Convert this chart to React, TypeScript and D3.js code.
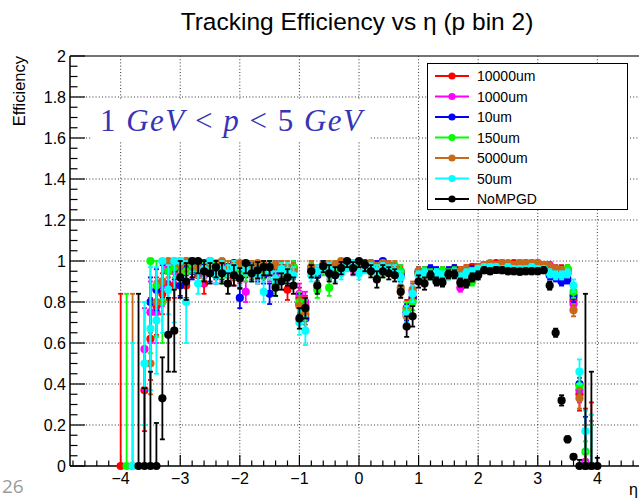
import React from "react";
import * as d3 from "d3";

// eta bin centres (categories)
const ETA_BINS: number[] = d3.range(81).map((i) => Math.round((-4 + 0.1 * i) * 10) / 10);

const SERIES_NAMES = ["10000um", "1000um", "10um", "150um", "5000um", "50um", "NoMPGD"];
const SERIES_COLORS = ["#ff0000", "#ff00ff", "#0000ff", "#00ff00", "#c8691a", "#00ffff", "#000000"];

const X_TICKS = [-4, -3, -2, -1, 0, 1, 2, 3, 4];
const Y_TICKS = [0, 0.2, 0.4, 0.6, 0.8, 1, 1.2, 1.4, 1.6, 1.8, 2];

const N = null;

// 10000um
const EFF_10000 = [
  0, N, N, N, 0.37, 0.62, 0.78, 0.84, 0.88, 0.88,
  0.97, 0.88, 0.96, 0.93, 0.89, 0.98, 0.95, 0.97, 0.96, 0.92,
  0.94, 0.97, 0.95, 0.93, 0.98, 0.96, 0.94, 0.97, 0.86, 0.95,
  0.82, 0.78, 0.97, 0.93, 0.97, 0.95, 0.96, 0.98, 0.99, 0.97,
  0.99, 0.97, 0.99, 0.96, 0.98, 0.97, 0.95, 0.94, 0.77, 0.82,
  0.94, 0.95, 0.95, 0.94, 0.95, 0.94, 0.96, 0.95, 0.96, 0.97,
  0.97, 0.98, 0.98, 0.99, 0.99, 0.98, 0.99, 0.98, 0.99, 0.98,
  0.99, 0.98, 0.97, 0.96, 0.96, 0.96, 0.81, 0.35, 0, 0, N,
];
const ERR_10000 = [
  0.84, 0, 0, 0, 0.2, 0.2, 0.14, 0.1, 0.07, 0.06,
  0.04, 0.06, 0.04, 0.04, 0.05, 0.03, 0.04, 0.03, 0.04, 0.04,
  0.04, 0.03, 0.04, 0.04, 0.03, 0.03, 0.04, 0.03, 0.05, 0.03,
  0.05, 0.05, 0.03, 0.03, 0.03, 0.03, 0.03, 0.02, 0.02, 0.02,
  0.02, 0.02, 0.02, 0.03, 0.02, 0.02, 0.03, 0.03, 0.04, 0.04,
  0.02, 0.02, 0.02, 0.02, 0.02, 0.02, 0.02, 0.02, 0.02, 0.015,
  0.015, 0.015, 0.015, 0.015, 0.015, 0.015, 0.015, 0.015, 0.015, 0.015,
  0.015, 0.015, 0.02, 0.02, 0.02, 0.02, 0.04, 0.08, 0.28, 0.31, 0,
];

// 1000um
const EFF_1000 = [
  N, N, N, N, 0.57, 0.75, 0.75, 0.88, 0.97, 0.95,
  0.97, 1.0, 1.0, 0.96, 0.93, 1.0, 0.96, 0.94, 0.97, 0.95,
  0.93, 0.85, 0.97, 0.95, 0.96, 0.94, 0.96, 0.93, 0.95, 0.96,
  0.84, 0.8, 0.96, 0.95, 0.98, 0.96, 0.97, 0.97, 0.98, 0.96,
  0.98, 0.97, 0.97, 0.98, 0.96, 0.98, 0.96, 0.95, 0.74, 0.85,
  0.94, 0.95, 0.94, 0.95, 0.93, 0.95, 0.95, 0.87, 0.95, 0.96,
  0.97, 0.98, 0.97, 0.98, 0.99, 0.98, 0.98, 0.99, 0.98, 0.99,
  0.98, 0.98, 0.98, 0.96, 0.95, 0.95, 0.79, 0.37, 0.02, 0, N,
];
const ERR_1000 = [
  0, 0, 0, 0, 0.2, 0.15, 0.15, 0.1, 0.05, 0.05,
  0.04, 0.05, 0.04, 0.04, 0.05, 0.04, 0.04, 0.04, 0.03, 0.04,
  0.04, 0.05, 0.03, 0.04, 0.03, 0.04, 0.03, 0.04, 0.03, 0.03,
  0.05, 0.05, 0.03, 0.03, 0.02, 0.03, 0.03, 0.02, 0.02, 0.03,
  0.02, 0.02, 0.02, 0.02, 0.03, 0.02, 0.03, 0.03, 0.04, 0.04,
  0.02, 0.02, 0.02, 0.02, 0.02, 0.02, 0.02, 0.02, 0.02, 0.015,
  0.015, 0.015, 0.015, 0.015, 0.015, 0.015, 0.015, 0.015, 0.015, 0.015,
  0.015, 0.015, 0.015, 0.02, 0.02, 0.02, 0.03, 0.06, 0.05, 0.22, 0,
];

// 10um
const EFF_10 = [
  N, N, N, N, N, 0.8, 0.86, 0.9, 0.95, 0.96,
  0.88, 0.97, 0.95, 0.97, 0.99, 0.94, 0.93, 0.95, 0.97, 0.99,
  0.82, 0.96, 0.98, 0.94, 0.93, 0.84, 0.97, 0.95, 0.93, 0.97,
  0.79, 0.72, 0.95, 0.93, 0.97, 0.94, 0.96, 0.97, 0.98, 0.99,
  0.97, 0.99, 0.97, 0.98, 1.0, 0.96, 0.97, 0.93, 0.75, 0.82,
  0.95, 0.94, 0.96, 0.95, 0.94, 0.95, 0.96, 0.94, 0.95, 0.96,
  0.97, 0.97, 0.98, 0.98, 0.97, 0.98, 0.98, 0.98, 0.97, 0.98,
  0.97, 0.97, 0.93, 0.92, 0.9, 0.91, 0.83, 0.4, 0, 0, N,
];
const ERR_10 = [
  0, 0, 0, 0, 0, 0.12, 0.1, 0.08, 0.05, 0.05,
  0.05, 0.04, 0.04, 0.04, 0.03, 0.04, 0.04, 0.04, 0.04, 0.03,
  0.05, 0.04, 0.03, 0.04, 0.04, 0.05, 0.03, 0.04, 0.04, 0.03,
  0.05, 0.06, 0.03, 0.03, 0.03, 0.03, 0.03, 0.02, 0.02, 0.02,
  0.02, 0.02, 0.02, 0.02, 0.02, 0.03, 0.02, 0.03, 0.04, 0.04,
  0.02, 0.02, 0.02, 0.02, 0.02, 0.02, 0.02, 0.02, 0.02, 0.015,
  0.015, 0.015, 0.015, 0.015, 0.015, 0.015, 0.015, 0.015, 0.015, 0.015,
  0.015, 0.015, 0.02, 0.02, 0.02, 0.02, 0.03, 0.06, 0.24, 0.2, 0,
];

// 150um
const EFF_150 = [
  N, 0, N, N, N, 1.0, 0.88, 0.8, 0.95, 0.97,
  1.0, 0.95, 0.98, 0.96, 0.95, 0.97, 0.99, 0.93, 0.96, 0.95,
  0.97, 0.94, 0.96, 0.98, 0.95, 0.97, 0.88, 0.96, 0.94, 0.97,
  0.8, 0.76, 0.96, 0.86, 0.96, 0.87, 0.97, 0.96, 0.98, 0.97,
  0.98, 0.98, 0.96, 0.97, 0.95, 0.97, 0.97, 0.95, 0.76, 0.8,
  0.94, 0.95, 0.94, 0.94, 0.95, 0.94, 0.95, 0.93, 0.95, 0.9,
  0.96, 0.97, 0.98, 0.98, 0.98, 0.97, 0.98, 0.99, 0.98, 0.98,
  0.98, 0.98, 0.96, 0.95, 0.95, 0.96, 0.85, 0.39, 0.07, 0, N,
];
const ERR_150 = [
  0, 0.84, 0, 0, 0, 0.45, 0.25, 0.2, 0.08, 0.05,
  0.05, 0.05, 0.04, 0.04, 0.04, 0.04, 0.03, 0.04, 0.04, 0.04,
  0.03, 0.04, 0.04, 0.03, 0.04, 0.03, 0.05, 0.03, 0.04, 0.03,
  0.05, 0.05, 0.03, 0.04, 0.03, 0.04, 0.03, 0.03, 0.02, 0.02,
  0.02, 0.02, 0.03, 0.02, 0.03, 0.02, 0.02, 0.03, 0.04, 0.04,
  0.02, 0.02, 0.02, 0.02, 0.02, 0.02, 0.02, 0.02, 0.02, 0.02,
  0.015, 0.015, 0.015, 0.015, 0.015, 0.015, 0.015, 0.015, 0.015, 0.015,
  0.015, 0.015, 0.02, 0.02, 0.02, 0.02, 0.03, 0.06, 0.05, 0.2, 0,
];

// 5000um
const EFF_5000 = [
  N, N, 0, N, N, 0.5, 0.8, 0.9, 1.0, 1.0,
  0.98, 1.0, 1.0, 0.97, 0.96, 0.99, 0.97, 1.0, 0.96, 0.98,
  0.99, 0.97, 0.96, 0.99, 0.97, 0.95, 0.98, 0.96, 0.97, 0.95,
  0.78, 0.74, 0.97, 0.95, 0.98, 0.97, 0.98, 1.0, 0.98, 0.99,
  0.97, 0.98, 0.99, 0.97, 0.99, 0.98, 0.97, 0.87, 0.73, 0.86,
  0.95, 0.92, 0.93, 0.92, 0.92, 0.93, 0.94, 0.95, 0.96, 0.95,
  0.97, 0.98, 0.99, 0.98, 0.99, 0.99, 0.98, 0.99, 0.99, 0.99,
  0.99, 0.98, 0.97, 0.96, 0.95, 0.94, 0.76, 0.33, 0, 0, N,
];
const ERR_5000 = [
  0, 0, 0.84, 0, 0, 0.15, 0.1, 0.1, 0.08, 0.06,
  0.04, 0.05, 0.04, 0.04, 0.04, 0.03, 0.04, 0.04, 0.04, 0.03,
  0.03, 0.04, 0.04, 0.03, 0.04, 0.04, 0.03, 0.04, 0.03, 0.04,
  0.05, 0.05, 0.03, 0.03, 0.02, 0.03, 0.02, 0.02, 0.02, 0.02,
  0.02, 0.02, 0.02, 0.02, 0.02, 0.02, 0.03, 0.04, 0.04, 0.04,
  0.02, 0.02, 0.02, 0.02, 0.02, 0.02, 0.02, 0.02, 0.02, 0.015,
  0.015, 0.015, 0.015, 0.015, 0.015, 0.015, 0.015, 0.015, 0.015, 0.015,
  0.015, 0.015, 0.02, 0.02, 0.02, 0.02, 0.03, 0.05, 0.2, 0.25, 0,
];

// 50um
const EFF_50 = [
  N, N, 0, N, 0.5, 0.67, 0.71, 1.0, 0.86, 1.0,
  1.0, 0.8, 1.0, 0.89, 0.96, 1.0, 0.93, 0.96, 0.94, 0.97,
  0.92, 0.96, 0.94, 0.93, 0.85, 0.95, 0.91, 0.96, 0.95, 0.93,
  0.7, 0.66, 0.93, 0.95, 0.97, 0.96, 0.93, 0.94, 0.97, 0.99,
  0.94, 0.96, 0.97, 0.95, 0.97, 0.96, 0.95, 0.92, 0.74, 0.84,
  0.93, 0.94, 0.93, 0.94, 0.93, 0.93, 0.94, 0.92, 0.94, 0.95,
  0.96, 0.97, 0.97, 0.97, 0.96, 0.97, 0.96, 0.96, 0.96, 0.97,
  0.96, 0.96, 0.94, 0.93, 0.93, 0.94, 0.88, 0.46, 0.17, 0, N,
];
const ERR_50 = [
  0, 0, 0.6, 0, 0.3, 0.3, 0.26, 0.35, 0.12, 0.3,
  0.1, 0.2, 0.05, 0.05, 0.04, 0.04, 0.04, 0.04, 0.04, 0.03,
  0.04, 0.03, 0.04, 0.04, 0.05, 0.04, 0.04, 0.03, 0.04, 0.04,
  0.06, 0.07, 0.03, 0.03, 0.03, 0.03, 0.03, 0.03, 0.02, 0.02,
  0.03, 0.02, 0.02, 0.03, 0.02, 0.02, 0.03, 0.03, 0.04, 0.04,
  0.02, 0.02, 0.02, 0.02, 0.02, 0.02, 0.02, 0.02, 0.02, 0.015,
  0.015, 0.015, 0.015, 0.015, 0.015, 0.015, 0.015, 0.015, 0.015, 0.015,
  0.015, 0.015, 0.02, 0.02, 0.02, 0.02, 0.03, 0.06, 0.1, 0.25, 0,
];

// NoMPGD
const EFF_NOMPGD = [
  N, N, N, 0, 0, 0, 0, 0.33, 0.64, 0.66,
  0.92, 0.9, 1.0, 1.0, 0.95, 0.94, 0.97, 0.94, 0.89, 0.93,
  0.915, 0.99, 0.94, 0.955, 0.97, 0.97, 0.87, 0.9, 0.92, 0.88,
  0.72, 0.77, 0.95, 0.88, 0.975, 0.94, 0.93, 0.965, 1.0, 0.965,
  1.0, 0.98, 0.95, 0.91, 0.95, 0.94, 0.93, 0.85, 0.68, 0.73,
  0.9, 0.89, 0.93, 0.9, 0.895, 0.935, 0.935, 0.895, 0.89, 0.92,
  0.93, 0.955, 0.95, 0.956, 0.955, 0.95, 0.95, 0.948, 0.95, 0.95,
  0.95, 0.955, 0.88, 0.65, 0.32, 0.13, 0.045, 0, 0, 0, 0,
];
const ERR_NOMPGD = [
  0, 0, 0, 0.84, 0.38, 0.46, 0.21, 0.2, 0.18, 0.2,
  0.1, 0.09, 0.08, 0.06, 0.05, 0.05, 0.05, 0.05, 0.05, 0.05,
  0.05, 0.05, 0.04, 0.04, 0.04, 0.04, 0.04, 0.04, 0.04, 0.04,
  0.05, 0.05, 0.03, 0.04, 0.03, 0.04, 0.04, 0.03, 0.03, 0.03,
  0.03, 0.03, 0.03, 0.04, 0.03, 0.03, 0.03, 0.03, 0.05, 0.05,
  0.03, 0.03, 0.02, 0.02, 0.02, 0.02, 0.02, 0.02, 0.02, 0.02,
  0.02, 0.015, 0.015, 0.015, 0.015, 0.015, 0.015, 0.015, 0.015, 0.015,
  0.015, 0.015, 0.02, 0.02, 0.025, 0.015, 0.01, 0.03, 0.84, 0.46, 0.04,
];

const SERIES_VALUES = [EFF_10000, EFF_1000, EFF_10, EFF_150, EFF_5000, EFF_50, EFF_NOMPGD];
const SERIES_ERRORS = [ERR_10000, ERR_1000, ERR_10, ERR_150, ERR_5000, ERR_50, ERR_NOMPGD];

const W = 639;
const H = 498;
const FONT = "'Liberation Sans', Arial, Helvetica, sans-serif";

export default function App() {
  const x = d3.scaleLinear().domain([-4.85, 4.85]).range([70, 648]);
  const y = d3.scaleLinear().domain([0, 2]).range([466, 56]);
  const [x0, x1] = x.range();
  const [yb, yt] = y.range();

  const xMinor = d3.range(-48, 49, 2).map((v) => v / 10).filter((v) => Math.abs(v - Math.round(v)) > 1e-6);
  const yMinor = d3.range(0, 41).map((v) => v / 20).filter((v) => Math.abs(v * 5 - Math.round(v * 5)) > 1e-6);

  const R = 4.1;
  const CAP = 2.5;

  return (
    <div style={{ position: "fixed", left: 0, top: 0, width: W, height: H, background: "#fff" }}>
      <svg width={W} height={H} style={{ display: "block" }} fontFamily={FONT}>
        <rect x={0} y={0} width={W} height={H} fill="#fff" />
        {/* grid */}
        <g stroke="#333" strokeWidth={1} strokeDasharray="1 2.2">
          {X_TICKS.map((t) => (
            <line key={"gx" + t} x1={x(t)} x2={x(t)} y1={yt} y2={yb} />
          ))}
          {Y_TICKS.filter((t) => t > 0 && t < 2).map((t) => (
            <line key={"gy" + t} x1={x0} x2={x1} y1={y(t)} y2={y(t)} />
          ))}
        </g>

        {/* annotation */}
        <rect x={92} y={99} width={278} height={42} fill="#fff" />
        <text x={100} y={131} fontFamily="'Liberation Serif', 'DejaVu Serif', serif" fontSize={31} fill="#3535b5" textLength={262} lengthAdjust="spacing">
          <tspan>1 </tspan>
          <tspan fontStyle="italic">GeV</tspan>
          <tspan> &lt; </tspan>
          <tspan fontStyle="italic">p</tspan>
          <tspan> &lt; 5 </tspan>
          <tspan fontStyle="italic">GeV</tspan>
        </text>

        {/* frame */}
        <line x1={x0} x2={x1} y1={yt} y2={yt} stroke="#444" strokeWidth={1.5} />
        <line x1={x0} x2={x0} y1={yt} y2={yb} stroke="#000" strokeWidth={1.5} />
        <line x1={x0} x2={x1} y1={yb} y2={yb} stroke="#000" strokeWidth={1.5} />

        {/* ticks */}
        <g stroke="#000" strokeWidth={1.2}>
          {Y_TICKS.map((t) => (
            <line key={"ty" + t} x1={x0} x2={x0 + 15} y1={y(t)} y2={y(t)} />
          ))}
          {yMinor.map((t) => (
            <line key={"tym" + t} x1={x0} x2={x0 + 7.5} y1={y(t)} y2={y(t)} />
          ))}
          {X_TICKS.map((t) => (
            <line key={"tx" + t} x1={x(t)} x2={x(t)} y1={yb} y2={yb - 11} />
          ))}
          {xMinor.map((t) => (
            <line key={"txm" + t} x1={x(t)} x2={x(t)} y1={yb} y2={yb - 5.5} />
          ))}
        </g>

        {/* tick labels */}
        <g fontSize={16} fill="#000">
          {Y_TICKS.map((t) => (
            <text key={"ly" + t} x={x0 - 4} y={y(t) + 5.5} textAnchor="end">
              {d3.format("~g")(t)}
            </text>
          ))}
          {X_TICKS.map((t) => (
            <text key={"lx" + t} x={x(t)} y={yb + 18} textAnchor="middle">
              {t < 0 ? "\u2212" + Math.abs(t) : String(t)}
            </text>
          ))}
        </g>

        {/* axis titles */}
        <text transform={`translate(25,${yt}) rotate(-90)`} textAnchor="end" fontSize={16.5} fill="#000">
          Efficiency
        </text>
        <text x={629} y={495} fontSize={16} fill="#000">η</text>

        {/* title */}
        <text x={357} y={30} textAnchor="middle" fontSize={24.5} fill="#000">
          Tracking Efficiency vs η (p bin 2)
        </text>

        {/* data */}
        {SERIES_VALUES.map((vals, s) => {
          const errs = SERIES_ERRORS[s];
          const col = SERIES_COLORS[s];
          return (
            <g key={"s" + s}>
              {vals.map((v, i) => {
                if (v === null) return null;
                const e = errs[i];
                const lo = Math.max(0, v - e);
                const hi = Math.min(1, v + e);
                const cx = x(ETA_BINS[i]);
                return (
                  <g key={i}>
                    {hi - lo > 0 && (
                      <g stroke={col} strokeWidth={1.8}>
                        <line x1={cx} x2={cx} y1={y(lo)} y2={y(hi)} />
                        {lo < v && <line x1={cx - CAP} x2={cx + CAP} y1={y(lo)} y2={y(lo)} />}
                        {hi > v && <line x1={cx - CAP} x2={cx + CAP} y1={y(hi)} y2={y(hi)} />}
                      </g>
                    )}
                    <circle cx={cx} cy={y(v)} r={R} fill={col} />
                  </g>
                );
              })}
            </g>
          );
        })}

        {/* legend */}
        <rect x={427.5} y={63.5} width={200} height={146} fill="#fff" stroke="#000" strokeWidth={1} />
        {SERIES_NAMES.map((name, k) => {
          const ly = 76 + k * 20.5;
          return (
            <g key={name}>
              <line x1={435} x2={469} y1={ly} y2={ly} stroke={SERIES_COLORS[k]} strokeWidth={2} />
              <circle cx={452} cy={ly} r={3.6} fill={SERIES_COLORS[k]} />
              <text x={477} y={ly + 5} fontSize={14} fill="#000">
                {name}
              </text>
            </g>
          );
        })}

        {/* slide number */}
        <text x={2} y={493} fontSize={19} fill="#9a9a9a" fontFamily="'Open Sans', 'Liberation Sans', sans-serif">
          26
        </text>
      </svg>
    </div>
  );
}
